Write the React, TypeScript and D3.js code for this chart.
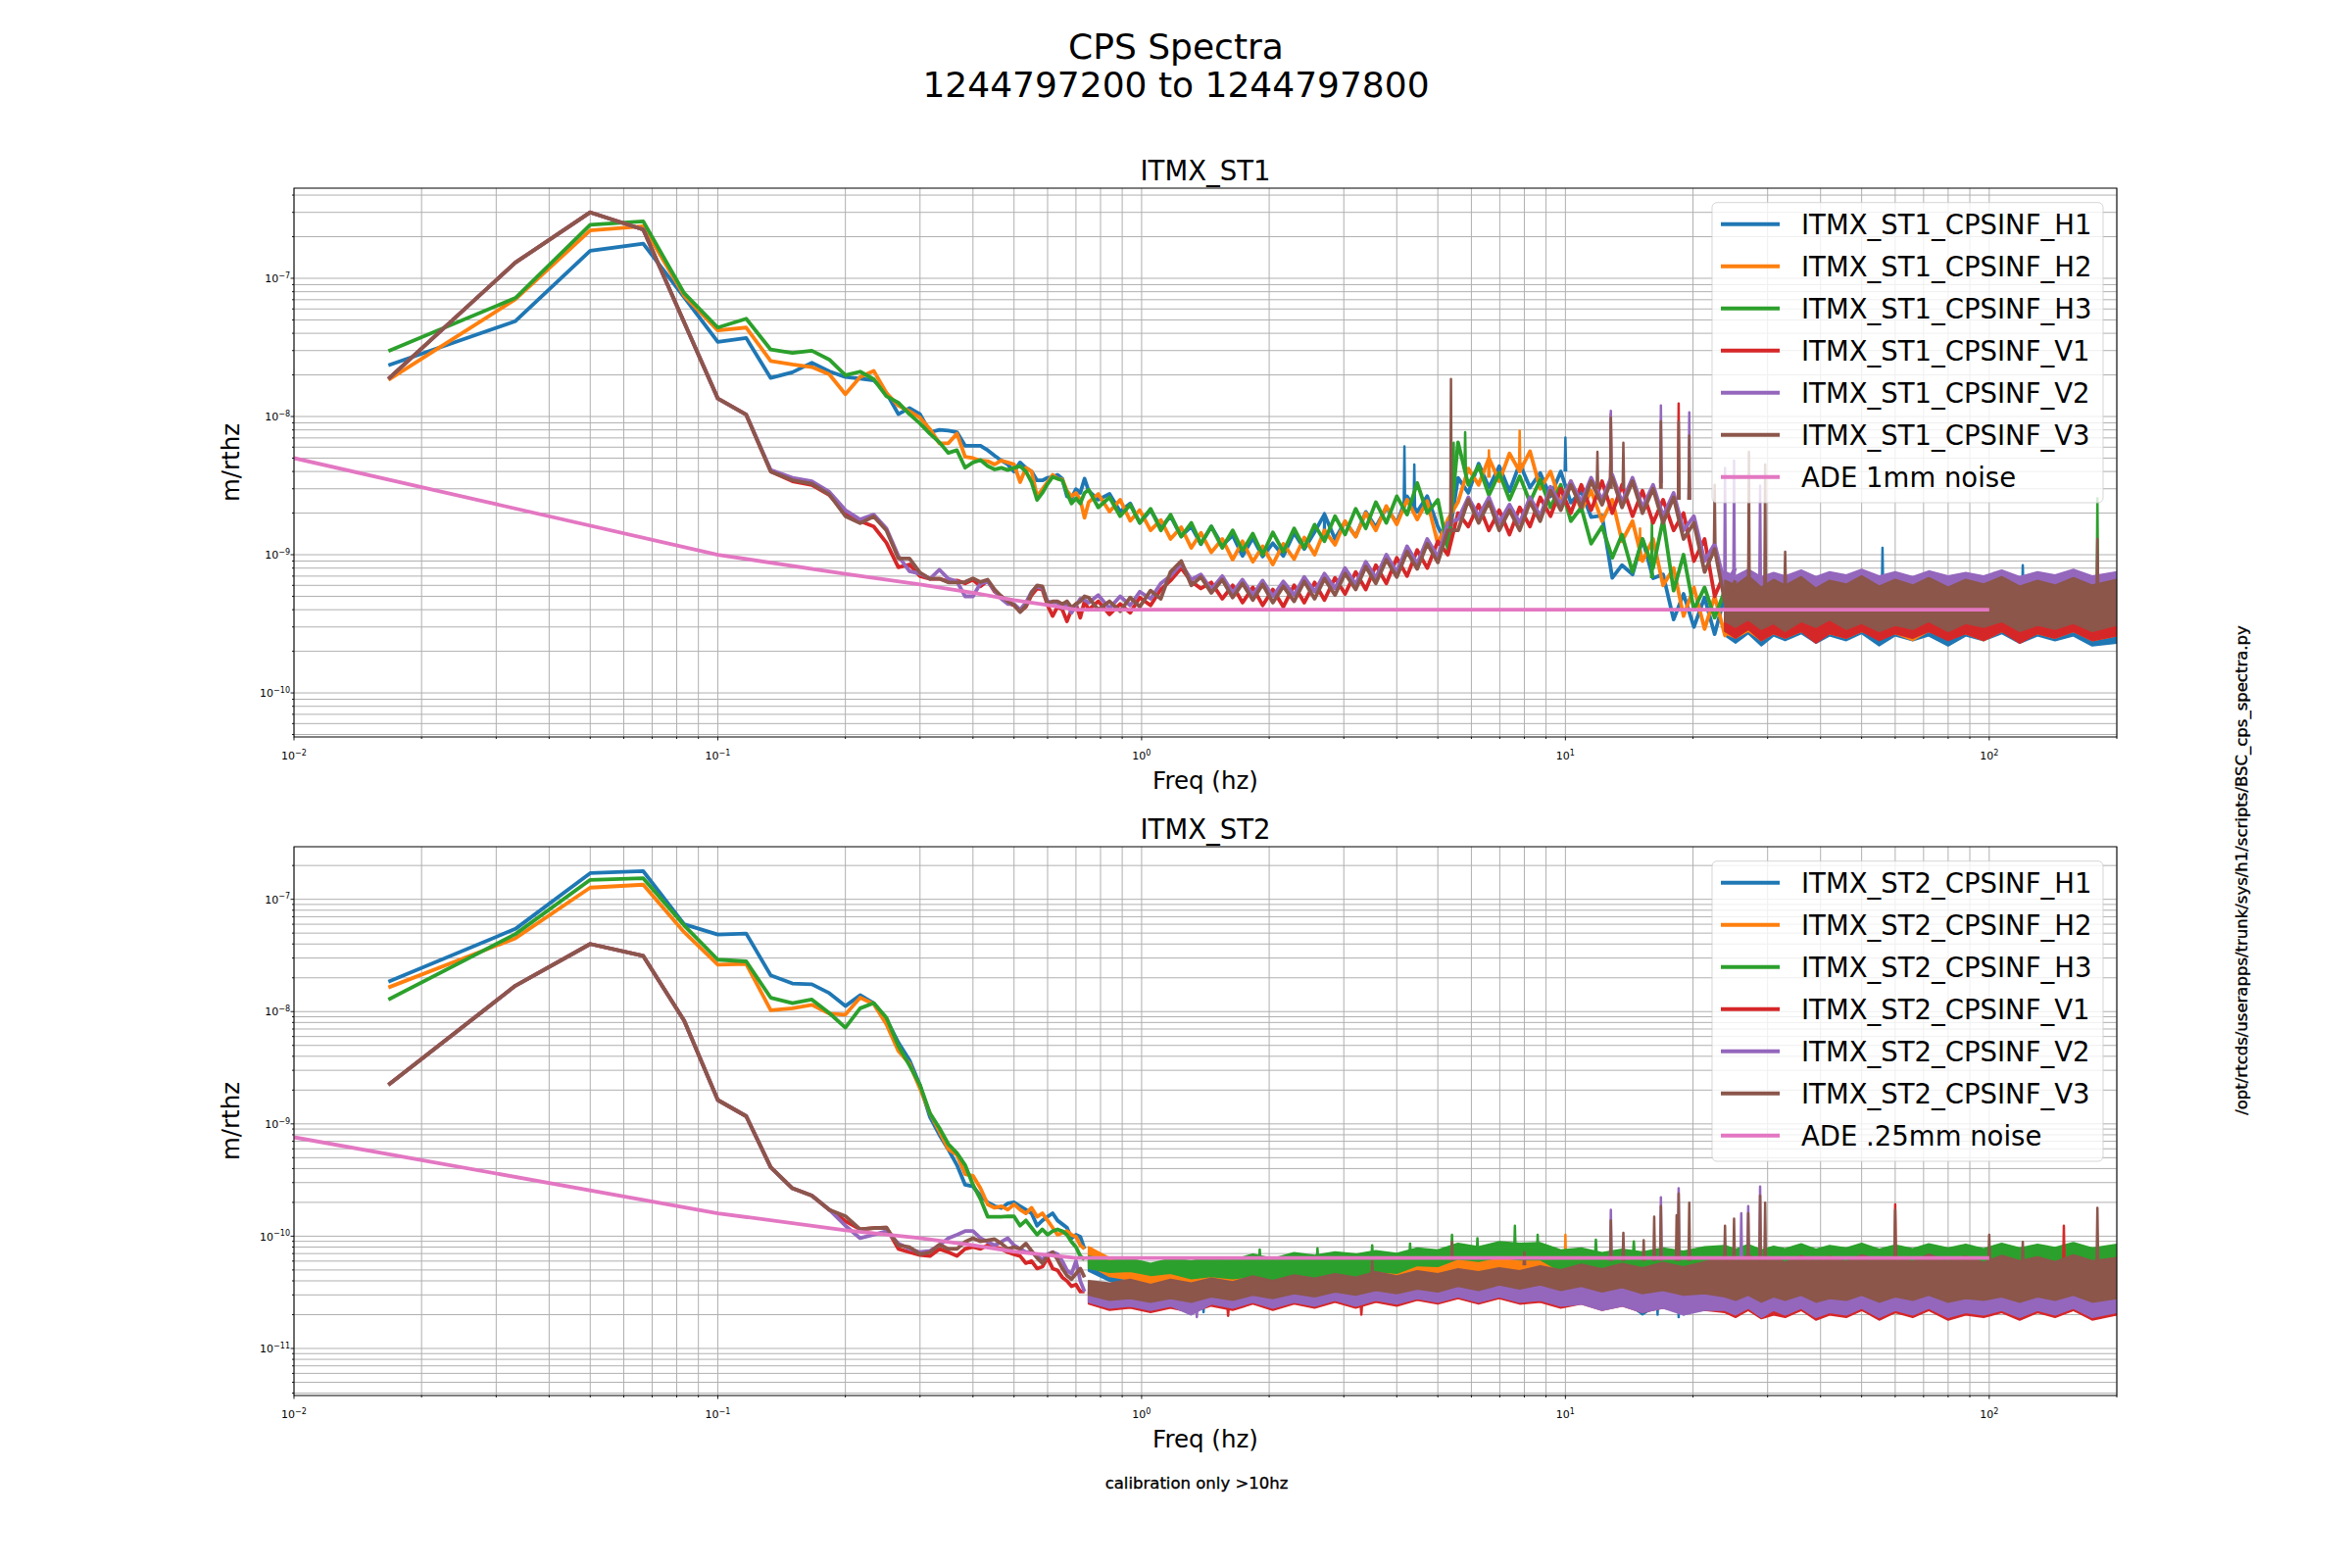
import React from 'react';
import * as d3 from 'd3';

// ---------- data ----------
// low-frequency bins (1/60 Hz spacing)
const FREQ_LOW = [0.0167,0.0333,0.05,0.0667,0.0833,0.1,0.1167,0.1333,0.15,0.1667,0.1833,0.2,0.2167,0.2333,0.25,0.2667,0.2833,0.3,0.3167,0.3333,0.35,0.3667,0.3833,0.4,0.4167,0.4333,0.45,0.4667,0.4833,0.5,0.5167,0.5333,0.55,0.5667,0.5833,0.6,0.6167,0.6333,0.65,0.6667,0.6833,0.7,0.7167,0.7333];
// ST1 mid-band sample frequencies (Hz)
const FREQ_MID = [
  0.75,0.79,0.84,0.89,0.94,0.99,1.05,1.11,
  1.17,1.24,1.31,1.38,1.46,1.55,1.64,1.73,
  1.83,1.93,2.04,2.16,2.29,2.42,2.56,2.7,
  2.86,3.02,3.2,3.38,3.57,3.78,4.0,4.23,
  4.47,4.72,5.0,5.28,5.58,5.9,6.24,6.6,
  6.98,7.38,7.8,8.25,8.72,9.22,9.75,10.3,
  10.9,11.5,12.2,12.9,13.6,14.4,15.2,16.1,
  17.0,18.0,19.0,20.1,21.3,22.5,23.8,25.2];
// ST1 dense region envelope frequencies (Hz)
const ST1_BAND_FREQ = [23.8,25.2,27,29,31,33,36,39,42,46,50,55,60,66,72,80,88,97,107,118,130,143,158,175,200];
// ST2 dense region envelope frequencies (Hz)
const ST2_BAND_FREQ = [0.75,0.84,0.94,1.05,1.17,1.31,1.46,1.64,1.83,2.04,2.29,2.56,2.86,3.2,3.57,4.0,4.47,5.0,5.58,6.24,6.98,7.8,8.72,9.75,10.9,12.2,13.6,15.2,17.0,19.0,21.3,
  23.8,25.2,27,29,31,33,36,39,42,46,50,55,60,66,72,80,88,97,107,118,130,143,158,175,200];
const NOISE_FREQ = [0.01,0.1,0.2,0.3,0.4,0.5,0.6,0.7,100];
const ST1_NOISE = [5.0e-9,1.0e-9,7.26e-10,6.1e-10,5.3e-10,4.7e-10,4.33e-10,4.0e-10,4.0e-10];
const ST2_NOISE = [7.6e-10,1.6e-10,1.13e-10,9.6e-11,8.3e-11,7.3e-11,6.8e-11,6.4e-11,6.4e-11];

const ST1_LABELS = ['ITMX_ST1_CPSINF_H1','ITMX_ST1_CPSINF_H2','ITMX_ST1_CPSINF_H3','ITMX_ST1_CPSINF_V1','ITMX_ST1_CPSINF_V2','ITMX_ST1_CPSINF_V3','ADE 1mm noise'];
const ST2_LABELS = ['ITMX_ST2_CPSINF_H1','ITMX_ST2_CPSINF_H2','ITMX_ST2_CPSINF_H3','ITMX_ST2_CPSINF_V1','ITMX_ST2_CPSINF_V2','ITMX_ST2_CPSINF_V3','ADE .25mm noise'];

// ===== ST1 =====
const ST1_H1 = [2.35e-8,4.9e-8,1.58e-7,1.78e-7,7.3e-8,3.46e-8,3.7e-8,1.9e-8,2.09e-8,2.45e-8,2.12e-8,1.93e-8,1.88e-8,1.83e-8,1.48e-8,1.04e-8,1.15e-8,1.04e-8,7.7e-9,8.0e-9,7.9e-9,7.7e-9,6.15e-9,6.15e-9,6.15e-9,5.7e-9,5.2e-9,4.8e-9,4.5e-9,4.0e-9,4.65e-9,4.25e-9,4.0e-9,3.45e-9,3.45e-9,3.6e-9,3.65e-9,3.78e-9,3.55e-9,2.64e-9,2.56e-9,2.98e-9,2.8e-9,3.55e-9];
const ST1_H2 = [1.84e-8,7.05e-8,2.22e-7,2.38e-7,7.5e-8,4.2e-8,4.4e-8,2.52e-8,2.38e-8,2.28e-8,2.02e-8,1.45e-8,1.93e-8,2.14e-8,1.48e-8,1.2e-8,1.09e-8,9.8e-9,8.1e-9,6.4e-9,6.4e-9,7.5e-9,5.1e-9,5.0e-9,4.8e-9,4.75e-9,4.5e-9,4.8e-9,4.65e-9,4.5e-9,3.35e-9,4.25e-9,4.0e-9,2.64e-9,2.98e-9,3.35e-9,3.78e-9,3.55e-9,3.5e-9,2.89e-9,2.64e-9,2.8e-9,2.49e-9,1.85e-9];
const ST1_H3 = [2.97e-8,7.2e-8,2.44e-7,2.58e-7,7.8e-8,4.4e-8,5.1e-8,3.05e-8,2.88e-8,2.99e-8,2.58e-8,1.99e-8,2.11e-8,1.86e-8,1.4e-8,1.26e-8,1.04e-8,8.9e-9,7.5e-9,6.5e-9,5.45e-9,5.7e-9,4.26e-9,4.65e-9,4.84e-9,4.38e-9,4.14e-9,4.25e-9,4.1e-9,4.25e-9,4.38e-9,4.0e-9,3.35e-9,2.49e-9,2.8e-9,3.25e-9,3.65e-9,3.55e-9,3.45e-9,2.8e-9,2.35e-9,2.56e-9,2.35e-9,2.8e-9];
const ST1_V1 = [1.87e-8,1.3e-7,3.0e-7,2.25e-7,4.8e-8,1.35e-8,1.03e-8,4.0e-9,3.4e-9,3.2e-9,2.7e-9,2.0e-9,1.75e-9,1.6e-9,1.22e-9,8.1e-10,8.5e-10,7.0e-10,6.7e-10,6.7e-10,6.4e-10,6.5e-10,6.2e-10,6.6e-10,5.9e-10,6.5e-10,5.4e-10,5.0e-10,4.5e-10,4.3e-10,3.9e-10,4.2e-10,5.1e-10,5.7e-10,5.6e-10,4.3e-10,3.6e-10,4.2e-10,4.0e-10,3.3e-10,4.0e-10,4.4e-10,3.5e-10,4.6e-10];
const ST1_V2 = [1.87e-8,1.3e-7,3.0e-7,2.25e-7,4.8e-8,1.35e-8,1.03e-8,4.1e-9,3.6e-9,3.4e-9,2.85e-9,2.1e-9,1.8e-9,1.95e-9,1.55e-9,9.8e-10,7.6e-10,7.3e-10,6.7e-10,7.8e-10,6.7e-10,6.4e-10,5.0e-10,5.0e-10,6.2e-10,6.4e-10,5.5e-10,4.8e-10,4.4e-10,4.4e-10,4.0e-10,4.5e-10,5.4e-10,5.9e-10,5.7e-10,4.6e-10,4.5e-10,4.5e-10,4.1e-10,4.4e-10,3.8e-10,4.3e-10,4.8e-10,4.7e-10];
const ST1_V3 = [1.87e-8,1.3e-7,3.0e-7,2.25e-7,4.8e-8,1.35e-8,1.03e-8,4.0e-9,3.46e-9,3.26e-9,2.73e-9,1.9e-9,1.69e-9,1.89e-9,1.5e-9,9.4e-10,9.4e-10,7.4e-10,6.7e-10,6.7e-10,6.3e-10,6.3e-10,6.35e-10,6.75e-10,6.35e-10,6.6e-10,5.6e-10,5.0e-10,4.6e-10,4.33e-10,3.84e-10,4.27e-10,5.3e-10,6.0e-10,5.9e-10,4.4e-10,4.6e-10,4.6e-10,4.4e-10,4.6e-10,4.15e-10,4.4e-10,4.6e-10,5.0e-10];

const ST1_H1_MID = [
  2.9e-9,2.5e-9,2.75e-9,2.05e-9,2.35e-9,1.7e-9,2.1e-9,1.58e-9,
  1.9e-9,1.36e-9,1.6e-9,1.19e-9,1.6e-9,1.17e-9,1.38e-9,9.8e-10,
  1.32e-9,9.7e-10,1.21e-9,9.8e-10,1.44e-9,1.1e-9,1.46e-9,1.96e-9,
  1.3e-9,1.73e-9,1.36e-9,2.04e-9,1.58e-9,2.19e-9,1.7e-9,2.64e-9,
  2.04e-9,2.65e-9,1.6e-9,1.17e-9,3.6e-9,2.8e-9,4.56e-9,3.06e-9,
  4.37e-9,2.88e-9,4.56e-9,3.06e-9,3.9e-9,2.64e-9,4.0e-9,2.38e-9,
  2.88e-9,1.87e-9,1.92e-9,6.8e-10,8.4e-10,7.2e-10,1.3e-9,6.75e-10,
  7.2e-10,3.4e-10,5.2e-10,3.0e-10,4.9e-10,2.66e-10,5.1e-10,2.85e-10];
const ST1_H2_MID = [
  2.4e-9,2.75e-9,2.05e-9,2.5e-9,1.76e-9,2.1e-9,1.5e-9,1.78e-9,
  1.3e-9,1.58e-9,1.12e-9,1.44e-9,1.04e-9,1.3e-9,9.2e-10,1.25e-9,
  8.9e-10,1.15e-9,8.5e-10,1.2e-9,9.3e-10,1.33e-9,1.0e-9,1.5e-9,
  1.18e-9,1.75e-9,1.35e-9,2.0e-9,1.5e-9,2.25e-9,1.66e-9,2.5e-9,
  1.8e-9,2.45e-9,1.2e-9,1.8e-9,2.4e-9,4.2e-9,3.2e-9,5.0e-9,
  3.4e-9,5.4e-9,4.0e-9,5.6e-9,3.0e-9,4.0e-9,2.4e-9,3.4e-9,
  2.1e-9,2.9e-9,1.75e-9,2.5e-9,1.25e-9,1.75e-9,9.0e-10,1.3e-9,
  6.0e-10,8.0e-10,3.6e-10,5.8e-10,2.9e-10,5.0e-10,2.6e-10,4.8e-10];
const ST1_H3_MID = [
  2.95e-9,2.2e-9,2.6e-9,1.9e-9,2.3e-9,1.7e-9,2.15e-9,1.5e-9,
  1.95e-9,1.35e-9,1.7e-9,1.2e-9,1.6e-9,1.12e-9,1.5e-9,1.07e-9,
  1.42e-9,1.0e-9,1.45e-9,1.05e-9,1.55e-9,1.12e-9,1.65e-9,1.25e-9,
  1.9e-9,1.4e-9,2.15e-9,1.55e-9,2.4e-9,1.7e-9,2.65e-9,1.95e-9,
  3.3e-9,2.0e-9,2.5e-9,1.1e-9,6.5e-9,3.2e-9,4.4e-9,2.7e-9,
  3.9e-9,2.5e-9,3.7e-9,2.4e-9,3.5e-9,2.2e-9,3.2e-9,1.75e-9,
  2.2e-9,1.2e-9,1.6e-9,9.5e-10,1.4e-9,7.5e-10,1.3e-9,8.0e-10,
  1.8e-9,5.5e-10,1.0e-9,4.0e-10,5.8e-10,3.5e-10,5.6e-10,3.3e-10];
const ST1_V1_MID = [
  4.0e-10,4.6e-10,3.7e-10,4.4e-10,3.8e-10,4.9e-10,4.3e-10,5.6e-10,
  6.5e-10,8.0e-10,6.4e-10,5.7e-10,6.3e-10,4.8e-10,6.0e-10,4.5e-10,
  5.8e-10,4.3e-10,5.6e-10,4.2e-10,6.0e-10,4.5e-10,6.3e-10,4.7e-10,
  6.8e-10,5.2e-10,7.5e-10,5.6e-10,8.4e-10,6.2e-10,9.5e-10,7.0e-10,
  1.08e-9,8.0e-10,1.25e-9,1.0e-9,2.0e-9,1.6e-9,2.3e-9,1.5e-9,
  2.1e-9,1.4e-9,2.2e-9,1.6e-9,2.6e-9,1.9e-9,3.0e-9,2.0e-9,
  3.2e-9,2.1e-9,3.4e-9,2.0e-9,3.2e-9,1.9e-9,2.9e-9,1.7e-9,
  2.5e-9,1.5e-9,2.0e-9,9.0e-10,1.3e-9,5.0e-10,7.5e-10,3.5e-10];
const ST1_V2_MID = [
  4.5e-10,5.1e-10,4.1e-10,5.0e-10,4.3e-10,5.4e-10,4.8e-10,6.2e-10,
  7.0e-10,8.6e-10,6.6e-10,7.2e-10,5.6e-10,7.0e-10,5.3e-10,6.6e-10,
  5.1e-10,6.5e-10,5.0e-10,6.4e-10,5.1e-10,6.9e-10,5.4e-10,7.3e-10,
  5.7e-10,8.0e-10,6.1e-10,8.9e-10,6.8e-10,1.0e-9,7.5e-10,1.15e-9,
  8.6e-10,1.3e-9,9.6e-10,1.7e-9,1.8e-9,2.6e-9,1.9e-9,2.6e-9,
  1.7e-9,2.3e-9,1.7e-9,2.6e-9,1.9e-9,3.1e-9,2.3e-9,3.4e-9,
  2.4e-9,3.6e-9,2.5e-9,3.8e-9,2.4e-9,3.6e-9,2.2e-9,3.2e-9,
  1.9e-9,2.8e-9,1.5e-9,1.9e-9,9.0e-10,1.2e-9,6.0e-10,8.0e-10];
const ST1_V3_MID = [
  4.9e-10,4.0e-10,4.6e-10,3.9e-10,4.9e-10,4.2e-10,5.5e-10,4.8e-10,
  7.5e-10,9.0e-10,6.0e-10,6.9e-10,5.3e-10,6.6e-10,4.9e-10,6.2e-10,
  4.7e-10,6.1e-10,4.5e-10,5.9e-10,4.6e-10,6.4e-10,4.8e-10,6.7e-10,
  5.1e-10,7.3e-10,5.6e-10,8.2e-10,6.2e-10,9.2e-10,6.9e-10,1.05e-9,
  7.9e-10,1.2e-9,8.8e-10,1.5e-9,1.5e-9,2.5e-9,1.7e-9,2.4e-9,
  1.5e-9,2.1e-9,1.5e-9,2.4e-9,1.75e-9,2.9e-9,2.1e-9,3.2e-9,
  2.2e-9,3.4e-9,2.3e-9,3.6e-9,2.2e-9,3.4e-9,2.0e-9,3.0e-9,
  1.7e-9,2.6e-9,1.3e-9,1.7e-9,7.5e-10,1.1e-9,4.5e-10,6.5e-10];

const ST1_H1_HI = [5.2e-10,4.6e-10,5.3e-10,4.7e-10,5.1e-10,4.6e-10,5.4e-10,4.7e-10,5.1e-10,4.6e-10,5.3e-10,4.8e-10,5.2e-10,4.6e-10,5.3e-10,4.7e-10,5.1e-10,4.6e-10,5.4e-10,4.7e-10,5.2e-10,4.6e-10,5.3e-10,4.7e-10,5.1e-10];
const ST1_H1_LO = [2.6e-10,2.3e-10,2.7e-10,2.2e-10,2.6e-10,2.4e-10,2.7e-10,2.3e-10,2.6e-10,2.4e-10,2.7e-10,2.2e-10,2.6e-10,2.4e-10,2.6e-10,2.2e-10,2.6e-10,2.4e-10,2.7e-10,2.3e-10,2.6e-10,2.4e-10,2.6e-10,2.2e-10,2.3e-10];
const ST1_H2_HI = [4.9e-10,4.5e-10,5.1e-10,4.4e-10,5.0e-10,4.5e-10,5.1e-10,4.6e-10,4.9e-10,4.4e-10,5.0e-10,4.5e-10,5.1e-10,4.4e-10,4.9e-10,4.5e-10,5.0e-10,4.4e-10,5.1e-10,4.5e-10,4.9e-10,4.4e-10,5.0e-10,4.5e-10,4.9e-10];
const ST1_H2_LO = [2.7e-10,2.5e-10,2.8e-10,2.4e-10,2.7e-10,2.5e-10,2.8e-10,2.4e-10,2.7e-10,2.5e-10,2.8e-10,2.5e-10,2.7e-10,2.4e-10,2.8e-10,2.5e-10,2.7e-10,2.4e-10,2.8e-10,2.5e-10,2.7e-10,2.5e-10,2.8e-10,2.4e-10,2.6e-10];
const ST1_H3_HI = [5.3e-10,4.8e-10,5.5e-10,4.8e-10,5.2e-10,4.9e-10,5.4e-10,4.8e-10,5.3e-10,4.9e-10,5.5e-10,4.8e-10,5.3e-10,4.9e-10,5.4e-10,4.8e-10,5.2e-10,4.9e-10,5.5e-10,4.8e-10,5.3e-10,4.9e-10,5.4e-10,4.8e-10,5.2e-10];
const ST1_H3_LO = [2.8e-10,2.6e-10,2.9e-10,2.5e-10,2.8e-10,2.6e-10,2.9e-10,2.5e-10,2.8e-10,2.6e-10,2.9e-10,2.6e-10,2.8e-10,2.5e-10,2.9e-10,2.6e-10,2.8e-10,2.5e-10,2.9e-10,2.6e-10,2.8e-10,2.6e-10,2.9e-10,2.5e-10,2.7e-10];
const ST1_V1_HI = [5.8e-10,5.3e-10,6.0e-10,5.2e-10,5.7e-10,5.3e-10,5.9e-10,5.2e-10,5.8e-10,5.3e-10,6.0e-10,5.3e-10,5.7e-10,5.2e-10,5.9e-10,5.3e-10,5.8e-10,5.2e-10,6.0e-10,5.3e-10,5.7e-10,5.3e-10,5.9e-10,5.2e-10,5.7e-10];
const ST1_V1_LO = [2.8e-10,2.5e-10,2.9e-10,2.4e-10,2.7e-10,2.5e-10,2.8e-10,2.3e-10,2.7e-10,2.5e-10,2.8e-10,2.4e-10,2.7e-10,2.5e-10,2.8e-10,2.4e-10,2.7e-10,2.4e-10,2.8e-10,2.3e-10,2.7e-10,2.5e-10,2.8e-10,2.4e-10,2.6e-10];
const ST1_V2_HI = [7.5e-10,7.0e-10,7.8e-10,6.9e-10,7.4e-10,7.0e-10,7.7e-10,6.9e-10,7.5e-10,7.1e-10,7.8e-10,7.0e-10,7.5e-10,6.9e-10,7.6e-10,7.0e-10,7.4e-10,7.0e-10,7.7e-10,6.9e-10,7.5e-10,7.1e-10,7.8e-10,7.0e-10,7.5e-10];
const ST1_V2_LO = [3.6e-10,3.4e-10,3.7e-10,3.3e-10,3.6e-10,3.4e-10,3.7e-10,3.3e-10,3.6e-10,3.4e-10,3.7e-10,3.4e-10,3.6e-10,3.3e-10,3.7e-10,3.4e-10,3.6e-10,3.3e-10,3.7e-10,3.4e-10,3.6e-10,3.4e-10,3.7e-10,3.3e-10,3.5e-10];
const ST1_V3_HI = [6.5e-10,6.0e-10,7.0e-10,5.8e-10,6.6e-10,6.0e-10,6.9e-10,5.7e-10,6.5e-10,6.1e-10,7.0e-10,5.9e-10,6.6e-10,6.0e-10,6.8e-10,5.8e-10,6.6e-10,6.1e-10,6.9e-10,5.9e-10,6.5e-10,6.0e-10,6.8e-10,6.0e-10,6.6e-10];
const ST1_V3_LO = [3.3e-10,3.0e-10,3.4e-10,2.9e-10,3.2e-10,2.8e-10,3.3e-10,3.0e-10,3.4e-10,2.9e-10,3.2e-10,2.8e-10,3.1e-10,2.9e-10,3.3e-10,2.8e-10,3.2e-10,3.0e-10,3.3e-10,2.8e-10,3.1e-10,2.9e-10,3.2e-10,2.8e-10,3.1e-10];

// narrow lines: [freq, base, peak]
const ST1_H1_SPIKES = [[2.7,1.3e-9,2.0e-9],[4.17,2.2e-9,6.07e-9],[4.4,2.2e-9,4.5e-9],[10,4.0e-9,7.05e-9],[56,5.0e-10,1.12e-9],[120,5.0e-10,8.4e-10]];
const ST1_H2_SPIKES = [[6.6,3.6e-9,5.7e-9],[7.8,4.0e-9,7.9e-9],[15,9e-10,1.55e-9]];
const ST1_H3_SPIKES = [[5.45,3e-9,6.45e-9],[5.8,4e-9,7.7e-9],[16,6.75e-10,1.85e-9],[180,5.0e-10,2.56e-9]];
const ST1_V1_SPIKES = [[12.8,3.3e-9,1.04e-8],[18.5,2.5e-9,1.24e-8]];
const ST1_V2_SPIKES = [[12.8,3.3e-9,1.1e-8],[16.8,3.3e-9,1.2e-8],[19.6,2.5e-9,1.07e-8],[23.8,6.75e-10,4.25e-9],[25,6.75e-10,4.79e-9],[28.8,6.75e-10,3.16e-9]];
const ST1_V3_SPIKES = [[5.37,1.6e-9,1.87e-8],[11.9,3e-9,5.56e-9],[12.8,3e-9,9.8e-9],[13.7,3e-9,6.45e-9],[16.8,3e-9,9.2e-9],[18.5,2.5e-9,9.2e-9],[19.6,2.5e-9,7.26e-9],[22.5,1.2e-9,3.2e-9],[27.1,6e-10,5.56e-9],[29.6,6e-10,4.5e-9],[33,6e-10,1.05e-9],[180,6e-10,1.3e-9]];

// ===== ST2 =====
const ST2_H1 = [1.85e-8,5.45e-8,1.71e-7,1.78e-7,6.0e-8,4.85e-8,4.95e-8,2.1e-8,1.78e-8,1.75e-8,1.46e-8,1.12e-8,1.4e-8,1.19e-8,8.6e-9,5.3e-9,3.7e-9,2.2e-9,1.15e-9,8.0e-10,5.9e-10,4.3e-10,2.87e-10,2.77e-10,2.3e-10,2.0e-10,1.85e-10,1.78e-10,1.96e-10,2.0e-10,1.85e-10,1.72e-10,1.6e-10,1.24e-10,1.38e-10,1.49e-10,1.6e-10,1.38e-10,1.28e-10,1.19e-10,9.6e-11,1.03e-10,9.9e-11,7.7e-11];
const ST2_H2 = [1.64e-8,4.5e-8,1.27e-7,1.35e-7,5.1e-8,2.62e-8,2.66e-8,1.03e-8,1.07e-8,1.15e-8,9.6e-9,9.4e-9,1.33e-8,1.17e-8,7.7e-9,4.45e-9,3.44e-9,2.06e-9,1.24e-9,8.6e-10,5.96e-10,5.3e-10,3.57e-10,3.45e-10,2.67e-10,1.92e-10,1.79e-10,1.85e-10,1.72e-10,1.92e-10,1.72e-10,1.6e-10,1.79e-10,1.49e-10,1.6e-10,1.38e-10,1.19e-10,1.03e-10,1.07e-10,1.11e-10,1.03e-10,9.9e-11,8.3e-11,7.7e-11];
const ST2_H3 = [1.28e-8,4.9e-8,1.49e-7,1.54e-7,5.85e-8,2.9e-8,2.8e-8,1.33e-8,1.19e-8,1.28e-8,9.7e-9,7.2e-9,1.07e-8,1.19e-8,8.8e-9,4.95e-9,3.32e-9,2.22e-9,1.24e-9,9.2e-10,6.6e-10,5.5e-10,4.3e-10,2.87e-10,2.14e-10,1.49e-10,1.49e-10,1.49e-10,1.5e-10,1.5e-10,1.24e-10,1.38e-10,1.19e-10,1.03e-10,1.15e-10,1.03e-10,1.11e-10,1.15e-10,1.11e-10,1.03e-10,8.9e-11,8.0e-11,6.66e-11,6.19e-11];
const ST2_V1 = [2.23e-9,1.7e-8,4.0e-8,3.13e-8,8.3e-9,1.63e-9,1.17e-9,4.1e-10,2.67e-10,2.3e-10,1.72e-10,1.36e-10,1.15e-10,1.18e-10,1.19e-10,7.7e-11,7.2e-11,6.8e-11,6.66e-11,7.7e-11,7.2e-11,6.66e-11,7.7e-11,8.0e-11,7.7e-11,8.3e-11,8.0e-11,7.7e-11,7.2e-11,6.9e-11,6.66e-11,5.75e-11,6.0e-11,5.15e-11,5.35e-11,6.4e-11,5.15e-11,4.97e-11,4.3e-11,3.99e-11,3.58e-11,3.71e-11,3.21e-11,3.21e-11];
const ST2_V2 = [2.23e-9,1.7e-8,4.0e-8,3.13e-8,8.3e-9,1.63e-9,1.17e-9,4.1e-10,2.67e-10,2.3e-10,1.72e-10,1.24e-10,9.6e-11,1.03e-10,1.11e-10,8.6e-11,7.7e-11,7.2e-11,7.4e-11,8.3e-11,9.6e-11,1.03e-10,1.11e-10,1.11e-10,9.6e-11,8.9e-11,8.3e-11,8.9e-11,9.6e-11,8.3e-11,7.7e-11,7.2e-11,7.2e-11,6.66e-11,6.19e-11,6.9e-11,7.2e-11,6.9e-11,6.0e-11,4.97e-11,4.62e-11,6.0e-11,3.99e-11,3.21e-11];
const ST2_V3 = [2.23e-9,1.7e-8,4.0e-8,3.13e-8,8.3e-9,1.63e-9,1.17e-9,4.1e-10,2.67e-10,2.3e-10,1.72e-10,1.51e-10,1.15e-10,1.18e-10,1.19e-10,8.3e-11,8.0e-11,6.9e-11,7.2e-11,8.4e-11,7.7e-11,7.7e-11,8.9e-11,9.6e-11,9.0e-11,9.2e-11,9.4e-11,8.6e-11,7.7e-11,8.0e-11,7.7e-11,8.6e-11,7.4e-11,6.4e-11,5.75e-11,6.66e-11,7.2e-11,6.19e-11,5.15e-11,4.47e-11,4.15e-11,4.62e-11,5.15e-11,4.3e-11];

const ST2_H1_HI = [6.5e-11,5.6e-11,5.4e-11,4.6e-11,4.9e-11,4.3e-11,4.7e-11,4.4e-11,4.6e-11,4.2e-11,4.7e-11,4.3e-11,4.6e-11,4.2e-11,4.7e-11,4.4e-11,4.8e-11,4.5e-11,5.3e-11,5.0e-11,5.4e-11,4.7e-11,4.8e-11,4.2e-11,4.3e-11,3.9e-11,4.1e-11,3.6e-11,3.9e-11,3.5e-11,3.8e-11,
  3.6e-11,3.3e-11,3.7e-11,3.2e-11,3.5e-11,3.3e-11,3.7e-11,3.2e-11,3.6e-11,3.3e-11,3.7e-11,3.2e-11,3.5e-11,3.3e-11,3.7e-11,3.2e-11,3.6e-11,3.3e-11,3.7e-11,3.2e-11,3.5e-11,3.3e-11,3.7e-11,3.2e-11,3.5e-11];
const ST2_H1_LO = [4.9e-11,4.0e-11,3.9e-11,3.3e-11,3.5e-11,3.0e-11,3.3e-11,2.9e-11,3.2e-11,2.8e-11,3.2e-11,2.9e-11,3.1e-11,2.8e-11,3.2e-11,2.9e-11,3.3e-11,3.1e-11,3.6e-11,3.3e-11,3.7e-11,3.2e-11,3.3e-11,2.8e-11,2.9e-11,2.5e-11,2.7e-11,2.0e-11,2.6e-11,2.0e-11,2.5e-11,
  2.2e-11,2.0e-11,2.3e-11,1.95e-11,2.2e-11,2.0e-11,2.3e-11,1.95e-11,2.1e-11,2.0e-11,2.3e-11,1.95e-11,2.2e-11,2.0e-11,2.3e-11,1.95e-11,2.1e-11,2.0e-11,2.2e-11,1.95e-11,2.2e-11,2.0e-11,2.3e-11,1.95e-11,2.1e-11];
const ST2_H2_HI = [8.0e-11,6.4e-11,5.8e-11,4.9e-11,5.0e-11,4.4e-11,4.7e-11,4.2e-11,4.7e-11,4.1e-11,4.6e-11,4.3e-11,4.8e-11,4.6e-11,5.2e-11,5.0e-11,5.8e-11,5.7e-11,6.7e-11,6.5e-11,7.2e-11,6.8e-11,6.6e-11,5.2e-11,4.9e-11,4.1e-11,4.3e-11,3.7e-11,4.0e-11,3.5e-11,3.7e-11,
  3.5e-11,3.2e-11,3.6e-11,3.1e-11,3.4e-11,3.2e-11,3.6e-11,3.1e-11,3.5e-11,3.2e-11,3.6e-11,3.1e-11,3.4e-11,3.2e-11,3.6e-11,3.1e-11,3.5e-11,3.2e-11,3.6e-11,3.1e-11,3.4e-11,3.2e-11,3.6e-11,3.1e-11,3.4e-11];
const ST2_H2_LO = [5.6e-11,4.4e-11,4.1e-11,3.4e-11,3.5e-11,3.1e-11,3.3e-11,2.9e-11,3.3e-11,2.9e-11,3.2e-11,3.0e-11,3.4e-11,3.2e-11,3.6e-11,3.5e-11,4.0e-11,3.9e-11,4.6e-11,4.3e-11,4.8e-11,4.2e-11,3.9e-11,3.1e-11,3.1e-11,2.6e-11,2.7e-11,2.3e-11,2.5e-11,2.2e-11,2.4e-11,
  2.1e-11,1.95e-11,2.2e-11,1.9e-11,2.1e-11,1.95e-11,2.2e-11,1.9e-11,2.05e-11,1.95e-11,2.2e-11,1.9e-11,2.1e-11,1.95e-11,2.2e-11,1.9e-11,2.05e-11,1.95e-11,2.15e-11,1.9e-11,2.1e-11,1.95e-11,2.2e-11,1.9e-11,2.0e-11];
const ST2_H3_HI = [6.6e-11,6.0e-11,6.3e-11,5.7e-11,6.3e-11,6.0e-11,6.4e-11,6.1e-11,6.9e-11,6.3e-11,7.1e-11,6.7e-11,7.2e-11,6.9e-11,7.4e-11,7.0e-11,7.8e-11,7.5e-11,8.6e-11,8.0e-11,8.9e-11,8.6e-11,8.7e-11,7.5e-11,7.8e-11,7.1e-11,7.6e-11,7.2e-11,7.8e-11,7.3e-11,8.0e-11,
  8.2e-11,7.6e-11,8.4e-11,7.5e-11,8.1e-11,7.7e-11,8.5e-11,7.6e-11,8.2e-11,7.8e-11,8.6e-11,7.6e-11,8.3e-11,7.7e-11,8.5e-11,7.8e-11,8.4e-11,7.7e-11,8.6e-11,7.8e-11,8.4e-11,7.9e-11,8.7e-11,7.8e-11,8.4e-11];
const ST2_H3_LO = [5.2e-11,4.8e-11,4.9e-11,4.5e-11,4.7e-11,4.2e-11,4.4e-11,4.2e-11,4.4e-11,4.0e-11,4.4e-11,4.1e-11,4.5e-11,4.3e-11,4.9e-11,4.7e-11,5.5e-11,5.4e-11,6.3e-11,6.0e-11,6.5e-11,6.2e-11,6.2e-11,4.9e-11,4.6e-11,4.9e-11,5.5e-11,5.1e-11,5.6e-11,5.2e-11,5.7e-11,
  5.0e-11,5.2e-11,4.9e-11,5.1e-11,5.0e-11,5.2e-11,4.9e-11,5.1e-11,5.0e-11,5.2e-11,4.9e-11,5.1e-11,5.0e-11,5.2e-11,4.9e-11,5.1e-11,5.0e-11,5.2e-11,4.9e-11,5.1e-11,5.0e-11,5.2e-11,4.9e-11,5.1e-11,5.0e-11];
const ST2_V1_HI = [3.2e-11,3.3e-11,3.1e-11,3.2e-11,3.3e-11,3.1e-11,3.4e-11,3.2e-11,3.5e-11,3.3e-11,3.5e-11,3.4e-11,3.6e-11,3.5e-11,3.7e-11,3.6e-11,3.8e-11,3.7e-11,3.9e-11,3.8e-11,4.0e-11,3.9e-11,3.8e-11,3.7e-11,3.6e-11,3.5e-11,3.5e-11,3.4e-11,3.4e-11,3.3e-11,3.3e-11,
  3.5e-11,3.3e-11,3.6e-11,3.2e-11,3.5e-11,3.3e-11,3.6e-11,3.2e-11,3.5e-11,3.3e-11,3.6e-11,3.2e-11,3.5e-11,3.3e-11,3.6e-11,3.2e-11,3.5e-11,3.3e-11,3.6e-11,3.2e-11,3.5e-11,3.3e-11,3.6e-11,3.2e-11,3.5e-11];
const ST2_V1_LO = [2.5e-11,2.2e-11,2.3e-11,2.1e-11,2.3e-11,2.1e-11,2.4e-11,2.2e-11,2.5e-11,2.2e-11,2.5e-11,2.3e-11,2.6e-11,2.3e-11,2.6e-11,2.4e-11,2.7e-11,2.5e-11,2.8e-11,2.5e-11,2.8e-11,2.5e-11,2.6e-11,2.3e-11,2.5e-11,2.2e-11,2.4e-11,2.1e-11,2.3e-11,2.1e-11,2.2e-11,
  2.1e-11,1.9e-11,2.2e-11,1.85e-11,2.0e-11,1.9e-11,2.2e-11,1.8e-11,2.0e-11,1.9e-11,2.2e-11,1.8e-11,2.1e-11,1.9e-11,2.2e-11,1.8e-11,2.0e-11,1.9e-11,2.1e-11,1.8e-11,2.1e-11,1.9e-11,2.2e-11,1.8e-11,2.0e-11];
const ST2_V2_HI = [3.4e-11,3.6e-11,3.4e-11,3.5e-11,3.6e-11,3.4e-11,3.6e-11,3.7e-11,3.8e-11,3.6e-11,3.8e-11,3.9e-11,4.0e-11,3.9e-11,4.1e-11,4.0e-11,4.2e-11,4.1e-11,4.3e-11,4.2e-11,4.4e-11,4.2e-11,4.1e-11,4.0e-11,3.9e-11,3.8e-11,3.7e-11,3.6e-11,3.6e-11,3.5e-11,3.5e-11,
  3.8e-11,3.6e-11,3.9e-11,3.5e-11,3.8e-11,3.6e-11,3.9e-11,3.5e-11,3.8e-11,3.6e-11,3.9e-11,3.5e-11,3.8e-11,3.6e-11,3.9e-11,3.5e-11,3.8e-11,3.6e-11,3.9e-11,3.5e-11,3.8e-11,3.6e-11,3.9e-11,3.5e-11,3.8e-11];
const ST2_V2_LO = [2.6e-11,2.3e-11,2.4e-11,2.2e-11,2.4e-11,2.0e-11,2.5e-11,2.3e-11,2.6e-11,2.3e-11,2.6e-11,2.4e-11,2.7e-11,2.4e-11,2.7e-11,2.5e-11,2.8e-11,2.6e-11,2.9e-11,2.6e-11,2.9e-11,2.6e-11,2.7e-11,2.4e-11,2.5e-11,2.2e-11,2.4e-11,2.1e-11,2.3e-11,2.0e-11,2.2e-11,
  2.2e-11,2.0e-11,2.3e-11,1.9e-11,2.2e-11,2.0e-11,2.3e-11,1.9e-11,2.1e-11,2.0e-11,2.3e-11,1.9e-11,2.2e-11,2.0e-11,2.3e-11,1.9e-11,2.1e-11,2.0e-11,2.2e-11,1.9e-11,2.2e-11,2.0e-11,2.3e-11,1.9e-11,2.1e-11];
const ST2_V3_HI = [4.0e-11,3.8e-11,4.1e-11,3.7e-11,4.1e-11,3.8e-11,4.2e-11,3.9e-11,4.4e-11,4.0e-11,4.5e-11,4.2e-11,4.6e-11,4.3e-11,4.8e-11,4.4e-11,4.9e-11,4.6e-11,5.1e-11,4.8e-11,5.2e-11,4.9e-11,5.4e-11,5.0e-11,5.6e-11,5.1e-11,5.7e-11,5.2e-11,5.8e-11,5.3e-11,5.9e-11,
  6.6e-11,5.9e-11,6.8e-11,6.0e-11,6.5e-11,5.8e-11,6.7e-11,6.0e-11,6.6e-11,5.9e-11,6.8e-11,6.1e-11,6.5e-11,5.9e-11,6.9e-11,6.0e-11,6.6e-11,5.8e-11,6.7e-11,6.0e-11,6.5e-11,5.9e-11,6.8e-11,6.0e-11,6.4e-11];
const ST2_V3_LO = [3.0e-11,2.7e-11,2.8e-11,2.6e-11,2.8e-11,2.6e-11,2.9e-11,2.7e-11,3.0e-11,2.8e-11,3.1e-11,2.9e-11,3.2e-11,3.0e-11,3.3e-11,3.1e-11,3.4e-11,3.2e-11,3.6e-11,3.3e-11,3.7e-11,3.4e-11,3.7e-11,3.3e-11,3.6e-11,3.2e-11,3.5e-11,3.1e-11,3.3e-11,3.0e-11,3.1e-11,
  2.9e-11,2.7e-11,3.0e-11,2.6e-11,2.9e-11,2.7e-11,3.0e-11,2.6e-11,2.8e-11,2.7e-11,3.0e-11,2.6e-11,2.9e-11,2.7e-11,3.0e-11,2.6e-11,2.8e-11,2.7e-11,2.9e-11,2.6e-11,2.9e-11,2.7e-11,3.0e-11,2.6e-11,2.8e-11];

const ST2_H1_SPIKES = [[16.5,3.0e-11,2.0e-11],[18.5,3.0e-11,1.9e-11],[1.4,3.0e-11,2.1e-11]];
const ST2_H2_SPIKES = [[7.6,5e-11,7.2e-11],[10,5e-11,1.03e-10],[6.3,4.5e-11,7.0e-11]];
const ST2_H3_SPIKES = [[3.5,6.5e-11,8.3e-11],[5.4,7e-11,1.03e-10],[6.2,7e-11,9.6e-11],[7.6,7e-11,1.24e-10],[8.6,7e-11,1.03e-10],[1.9,6e-11,7.6e-11],[2.6,6e-11,7.8e-11],[4.3,6.5e-11,8.6e-11],[11.8,7e-11,9.3e-11],[14.5,7e-11,9.0e-11]];
const ST2_V1_SPIKES = [[60,5e-11,1.92e-10],[150,5e-11,1.24e-10],[1.6,2.4e-11,1.95e-11],[3.3,2.5e-11,2.0e-11]];
const ST2_V2_SPIKES = [[12.8,6e-11,1.72e-10],[16.8,6e-11,2.22e-10],[18.5,6e-11,2.67e-10],[26,6e-11,1.6e-10],[27,6e-11,1.85e-10],[28.8,6e-11,2.77e-10],[1.35,2.4e-11,1.9e-11]];
const ST2_V3_SPIKES = [[5.4,6e-11,8.9e-11],[12.8,6e-11,1.38e-10],[13.7,6e-11,1.07e-10],[15.3,6e-11,9.2e-11],[16.2,6e-11,1.49e-10],[16.8,6e-11,1.85e-10],[18.3,6e-11,1.54e-10],[18.5,6e-11,2.39e-10],[19.6,6e-11,1.99e-10],[23.8,6e-11,1.24e-10],[25,6e-11,1.43e-10],[27,6e-11,1.6e-10],[28.8,6e-11,2.3e-10],[29.6,6e-11,1.99e-10],[60,6e-11,1.72e-10],[100,6e-11,1.03e-10],[120,6e-11,8.9e-11],[180,6e-11,1.79e-10],[3.5,4.5e-11,6.0e-11],[8.0,5.5e-11,7.2e-11]];

const COLORS = ['#1f77b4','#ff7f0e','#2ca02c','#d62728','#9467bd','#8c564b','#e377c2'];

// ---------- layout ----------
const FONT = '"DejaVu Sans", sans-serif';
const AX_L = 300, AX_R = 2160;
const X_DOMAIN = [0.01, 200];
const LW = 3.8;

type Series = { low: number[]; mid: number[]; hi: number[]; lo: number[]; spikes: number[][] };

const PANELS = [
  {
    key: 'st1', title: 'ITMX_ST1', top: 192, bottom: 752, yDomain: [4.8e-11, 4.49e-7],
    labels: ST1_LABELS, noise: ST1_NOISE, bandFreq: ST1_BAND_FREQ,
    series: [
      { low: ST1_H1, mid: ST1_H1_MID, hi: ST1_H1_HI, lo: ST1_H1_LO, spikes: ST1_H1_SPIKES },
      { low: ST1_H2, mid: ST1_H2_MID, hi: ST1_H2_HI, lo: ST1_H2_LO, spikes: ST1_H2_SPIKES },
      { low: ST1_H3, mid: ST1_H3_MID, hi: ST1_H3_HI, lo: ST1_H3_LO, spikes: ST1_H3_SPIKES },
      { low: ST1_V1, mid: ST1_V1_MID, hi: ST1_V1_HI, lo: ST1_V1_LO, spikes: ST1_V1_SPIKES },
      { low: ST1_V2, mid: ST1_V2_MID, hi: ST1_V2_HI, lo: ST1_V2_LO, spikes: ST1_V2_SPIKES },
      { low: ST1_V3, mid: ST1_V3_MID, hi: ST1_V3_HI, lo: ST1_V3_LO, spikes: ST1_V3_SPIKES },
    ] as Series[],
  },
  {
    key: 'st2', title: 'ITMX_ST2', top: 864, bottom: 1424, yDomain: [3.81e-12, 2.94e-7],
    labels: ST2_LABELS, noise: ST2_NOISE, bandFreq: ST2_BAND_FREQ,
    series: [
      { low: ST2_H1, mid: [], hi: ST2_H1_HI, lo: ST2_H1_LO, spikes: ST2_H1_SPIKES },
      { low: ST2_H2, mid: [], hi: ST2_H2_HI, lo: ST2_H2_LO, spikes: ST2_H2_SPIKES },
      { low: ST2_H3, mid: [], hi: ST2_H3_HI, lo: ST2_H3_LO, spikes: ST2_H3_SPIKES },
      { low: ST2_V1, mid: [], hi: ST2_V1_HI, lo: ST2_V1_LO, spikes: ST2_V1_SPIKES },
      { low: ST2_V2, mid: [], hi: ST2_V2_HI, lo: ST2_V2_LO, spikes: ST2_V2_SPIKES },
      { low: ST2_V3, mid: [], hi: ST2_V3_HI, lo: ST2_V3_LO, spikes: ST2_V3_SPIKES },
    ] as Series[],
  },
];

const MINUS = '\u2212';
function expLabel(e: number) { return e < 0 ? MINUS + Math.abs(e) : String(e); }

function logTicks(lo: number, hi: number) {
  const major: number[] = [];
  const minor: number[] = [];
  const e0 = Math.floor(Math.log10(lo)), e1 = Math.ceil(Math.log10(hi));
  for (let e = e0; e <= e1; e++) {
    for (let m = 1; m <= 9; m++) {
      const v = m * Math.pow(10, e);
      if (v < lo * 0.9999 || v > hi * 1.0001) continue;
      if (m === 1) major.push(e); else minor.push(v);
    }
  }
  return { major, minor };
}

function Panel({ cfg }: { cfg: typeof PANELS[number] }) {
  const x = d3.scaleLog().domain(X_DOMAIN).range([AX_L, AX_R]);
  const y = d3.scaleLog().domain(cfg.yDomain).range([cfg.bottom, cfg.top]);
  const line = d3.line<number[]>().x(d => x(d[0])).y(d => y(d[1]));
  const area = d3.area<number[]>().x(d => x(d[0])).y0(d => y(d[2])).y1(d => y(d[1]));
  const xt = logTicks(X_DOMAIN[0], X_DOMAIN[1]);
  const yt = logTicks(cfg.yDomain[0], cfg.yDomain[1]);
  const clipId = 'clip-' + cfg.key;
  const cy = (cfg.top + cfg.bottom) / 2;
  const cx = (AX_L + AX_R) / 2;
  const legTop = cfg.top + 14.7;
  return (
    <g>
      <defs>
        <clipPath id={clipId}><rect x={AX_L} y={cfg.top} width={AX_R - AX_L} height={cfg.bottom - cfg.top} /></clipPath>
      </defs>
      <g stroke="#b0b0b0" strokeWidth={1}>
        {xt.minor.map((v, i) => <line key={'gxm' + i} x1={x(v)} x2={x(v)} y1={cfg.top} y2={cfg.bottom} />)}
        {xt.major.map(e => <line key={'gx' + e} x1={x(Math.pow(10, e))} x2={x(Math.pow(10, e))} y1={cfg.top} y2={cfg.bottom} />)}
        {yt.minor.map((v, i) => <line key={'gym' + i} x1={AX_L} x2={AX_R} y1={y(v)} y2={y(v)} />)}
        {yt.major.map(e => <line key={'gy' + e} x1={AX_L} x2={AX_R} y1={y(Math.pow(10, e))} y2={y(Math.pow(10, e))} />)}
      </g>
      <g clipPath={`url(#${clipId})`} fill="none" strokeLinejoin="round">
        {cfg.series.map((s, si) => {
          const pts = FREQ_LOW.map((f, i) => [f, s.low[i]]).concat(s.mid.map((v, i) => [FREQ_MID[i], v]));
          const bandPts = cfg.bandFreq.map((f, i) => [f, s.hi[i], s.lo[i]]);
          return (
            <g key={'s' + si}>
              <path d={area(bandPts) || ''} fill={COLORS[si]} stroke={COLORS[si]} strokeWidth={2} />
              <path d={line(pts) || ''} stroke={COLORS[si]} strokeWidth={LW} />
              {s.spikes.map((sp, k) => (
                <path key={k} d={line([[sp[0] / 1.004, sp[1]], [sp[0], sp[2]], [sp[0] * 1.004, sp[1]]]) || ''}
                  stroke={COLORS[si]} strokeWidth={2.5} />
              ))}
            </g>
          );
        })}
        <path d={line(NOISE_FREQ.map((f, i) => [f, cfg.noise[i]])) || ''} stroke={COLORS[6]} strokeWidth={LW} />
      </g>
      <rect x={AX_L} y={cfg.top} width={AX_R - AX_L} height={cfg.bottom - cfg.top} fill="none" stroke="#000" strokeWidth={1} />
      <g stroke="#000" strokeWidth={0.9}>
        {xt.major.map(e => <line key={'tx' + e} x1={x(Math.pow(10, e))} x2={x(Math.pow(10, e))} y1={cfg.bottom} y2={cfg.bottom + 3.5} />)}
        {xt.minor.map((v, i) => <line key={'txm' + i} x1={x(v)} x2={x(v)} y1={cfg.bottom} y2={cfg.bottom + 2} />)}
        {yt.major.map(e => <line key={'ty' + e} x1={AX_L - 3.5} x2={AX_L} y1={y(Math.pow(10, e))} y2={y(Math.pow(10, e))} />)}
        {yt.minor.map((v, i) => <line key={'tym' + i} x1={AX_L - 2} x2={AX_L} y1={y(v)} y2={y(v)} />)}
      </g>
      <g fontFamily={FONT} fill="#000">
        {xt.major.map(e => (
          <text key={'lx' + e} x={x(Math.pow(10, e))} y={cfg.bottom + 23} fontSize={11} textAnchor="middle">
            10<tspan dy={-4.5} fontSize={8}>{expLabel(e)}</tspan>
          </text>
        ))}
        {yt.major.map(e => (
          <text key={'ly' + e} x={AX_L - 4} y={y(Math.pow(10, e)) + 4.2} fontSize={11} textAnchor="end">
            10<tspan dy={-4.5} fontSize={8}>{expLabel(e)}</tspan>
          </text>
        ))}
        <text x={cx} y={cfg.top - 8} fontSize={27.5} textAnchor="middle">{cfg.title}</text>
        <text x={cx} y={cfg.bottom + 53} fontSize={24.5} textAnchor="middle">Freq (hz)</text>
        <text transform={`translate(244,${cy}) rotate(-90)`} fontSize={24.5} textAnchor="middle">m/rthz</text>
      </g>
      <g>
        <rect x={1747} y={legTop} width={399} height={306.3} rx={5} ry={5} fill="#fff" fillOpacity={0.8} stroke="#cccccc" strokeOpacity={0.8} strokeWidth={1} />
        {cfg.labels.map((lab, i) => {
          const ry = legTop + 22 + i * 43;
          return (
            <g key={'lg' + i}>
              <line x1={1756} x2={1816} y1={ry} y2={ry} stroke={COLORS[i]} strokeWidth={4} />
              <text x={1838} y={ry + 10.3} fontFamily={FONT} fontSize={27.5} fill="#000">{lab}</text>
            </g>
          );
        })}
      </g>
    </g>
  );
}

export default function App() {
  return (
    <svg width={2400} height={1600} viewBox="0 0 2400 1600" xmlns="http://www.w3.org/2000/svg"
      style={{ position: 'absolute', left: 0, top: 0, background: '#fff' }}>
      <rect x={0} y={0} width={2400} height={1600} fill="#fff" />
      <g fontFamily={FONT} fill="#000" textAnchor="middle">
        <text x={1200} y={60} fontSize={36}>CPS Spectra</text>
        <text x={1200} y={99.3} fontSize={36}>1244797200 to 1244797800</text>
      </g>
      {PANELS.map(p => <Panel key={p.key} cfg={p} />)}
      <text x={1221} y={1519} fontFamily={FONT} fontSize={16.5} textAnchor="middle" fill="#000" stroke="#000" strokeWidth={0.35}>calibration only &gt;10hz</text>
      <text transform="translate(2293,888) rotate(-90)" fontFamily={FONT} fontSize={16.5} textAnchor="middle" fill="#000" stroke="#000" strokeWidth={0.35}>/opt/rtcds/userapps/trunk/sys/h1/scripts/BSC_cps_spectra.py</text>
    </svg>
  );
}
